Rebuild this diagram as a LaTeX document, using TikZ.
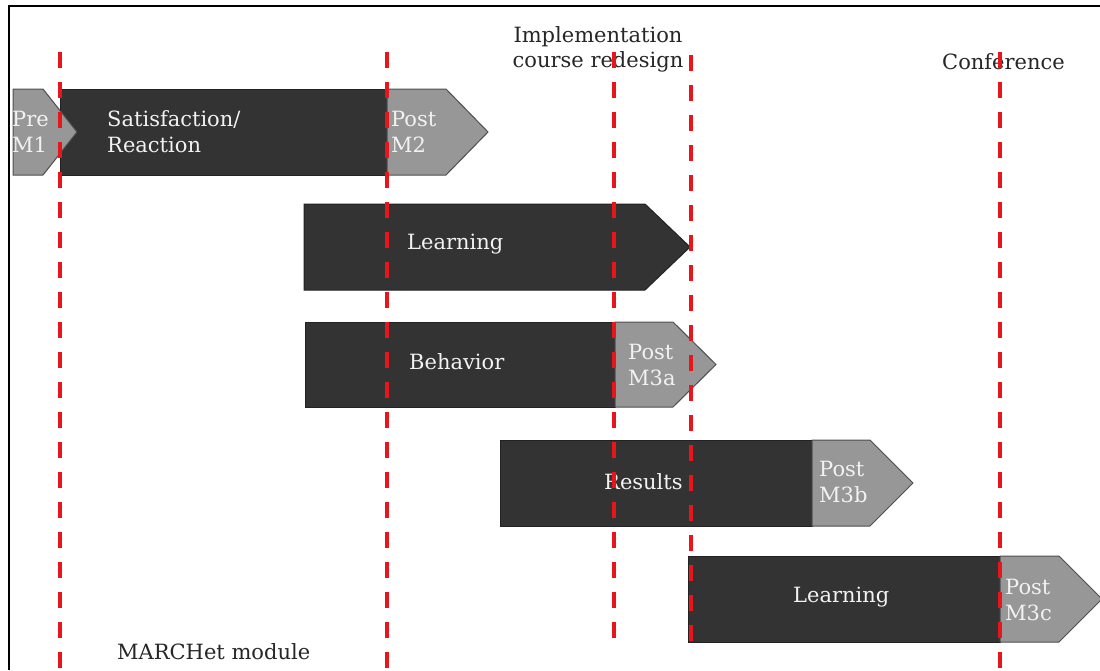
\documentclass[tikz,border=0pt]{standalone}
\usepackage{fontspec}
\setmainfont{DejaVu Serif}
\definecolor{barDark}{HTML}{333333}
\definecolor{barGrey}{HTML}{979797}
\definecolor{barEdge}{HTML}{222222}
\definecolor{markRed}{HTML}{E8151B}
\definecolor{inkText}{HTML}{F2F2F2}
\begin{document}
\begin{tikzpicture}[x=1pt,y=-1pt,
  darkbar/.style={fill=barDark,draw=barEdge,line width=1pt},
  greybar/.style={fill=barGrey,draw=barEdge!80,line width=1pt},
  milestone/.style={draw=markRed,line width=4pt,dash pattern=on 16pt off 14pt},
  inlabel/.style={text=inkText,anchor=west,inner sep=0pt,align=left,
    font=\fontsize{21}{26}\selectfont},
  outlabel/.style={text=black!85,inner sep=0pt,align=center,
    font=\fontsize{21}{25}\selectfont}]
\useasboundingbox (0,0) rectangle (1100,670);
% frame
\draw[line width=1.5pt] (9,670) -- (9,6) -- (1100,6);

% row 1: Satisfaction / Reaction
\path[darkbar] (60,89) rectangle (387,175);
\path[greybar] (13,89) -- (43,89) -- (77,132) -- (43,175) -- (13,175) -- cycle;
\path[greybar] (387,89) -- (446,89) -- (488,132) -- (446,175) -- (387,175) -- cycle;
\node[inlabel] (pre) at (12,132) {Pre\\M1};
\node[inlabel] (sat) at (107,132) {Satisfaction/\\Reaction};
\node[inlabel] (m2) at (391,132) {Post\\M2};

% row 2: Learning
\path[darkbar] (304,204) -- (645,204) -- (690,247) -- (645,290) -- (304,290) -- cycle;
\node[inlabel] (learn1) at (407,244) {Learning};

% row 3: Behavior
\path[darkbar] (305,322) rectangle (615,407);
\path[greybar] (615,322) -- (673,322) -- (716,364.5) -- (673,407) -- (615,407) -- cycle;
\node[inlabel] (behav) at (409,362) {Behavior};
\node[inlabel] (m3a) at (628,365) {Post\\M3a};

% row 4: Results
\path[darkbar] (500,440) rectangle (812,526);
\path[greybar] (812,440) -- (870,440) -- (913,483) -- (870,526) -- (812,526) -- cycle;
\node[inlabel] (res) at (604,482) {Results};
\node[inlabel] (m3b) at (819,482) {Post\\M3b};

% row 5: Learning
\path[darkbar] (688,556) rectangle (1000,642);
\path[greybar] (1000,556) -- (1059,556) -- (1102,599) -- (1059,642) -- (1000,642) -- cycle;
\node[inlabel] (learn2) at (793,597) {Learning};
\node[inlabel] (m3c) at (1005,600) {Post\\M3c};

% outside labels
\node[outlabel] (impl) at (598,49) {Implementation\\course redesign};
\node[outlabel,anchor=west] (conf) at (942,62) {Conference};
\node[outlabel,anchor=west] (march) at (117,652) {MARCHet module};

% milestone markers
\coordinate (l1t) at (60,52);   \coordinate (l1b) at (60,672);
\coordinate (l2t) at (387,52);  \coordinate (l2b) at (387,672);
\coordinate (l3t) at (614,52);  \coordinate (l3b) at (614,644);
\coordinate (l4t) at (691,55);  \coordinate (l4b) at (691,644);
\coordinate (l5t) at (1000,52); \coordinate (l5b) at (1000,672);
\draw[milestone] (l1t) -- (l1b);
\draw[milestone] (l2t) -- (l2b);
\draw[milestone] (l3t) -- (l3b);
\draw[milestone] (l4t) -- (l4b);
\draw[milestone] (l5t) -- (l5b);
\end{tikzpicture}
\end{document}
